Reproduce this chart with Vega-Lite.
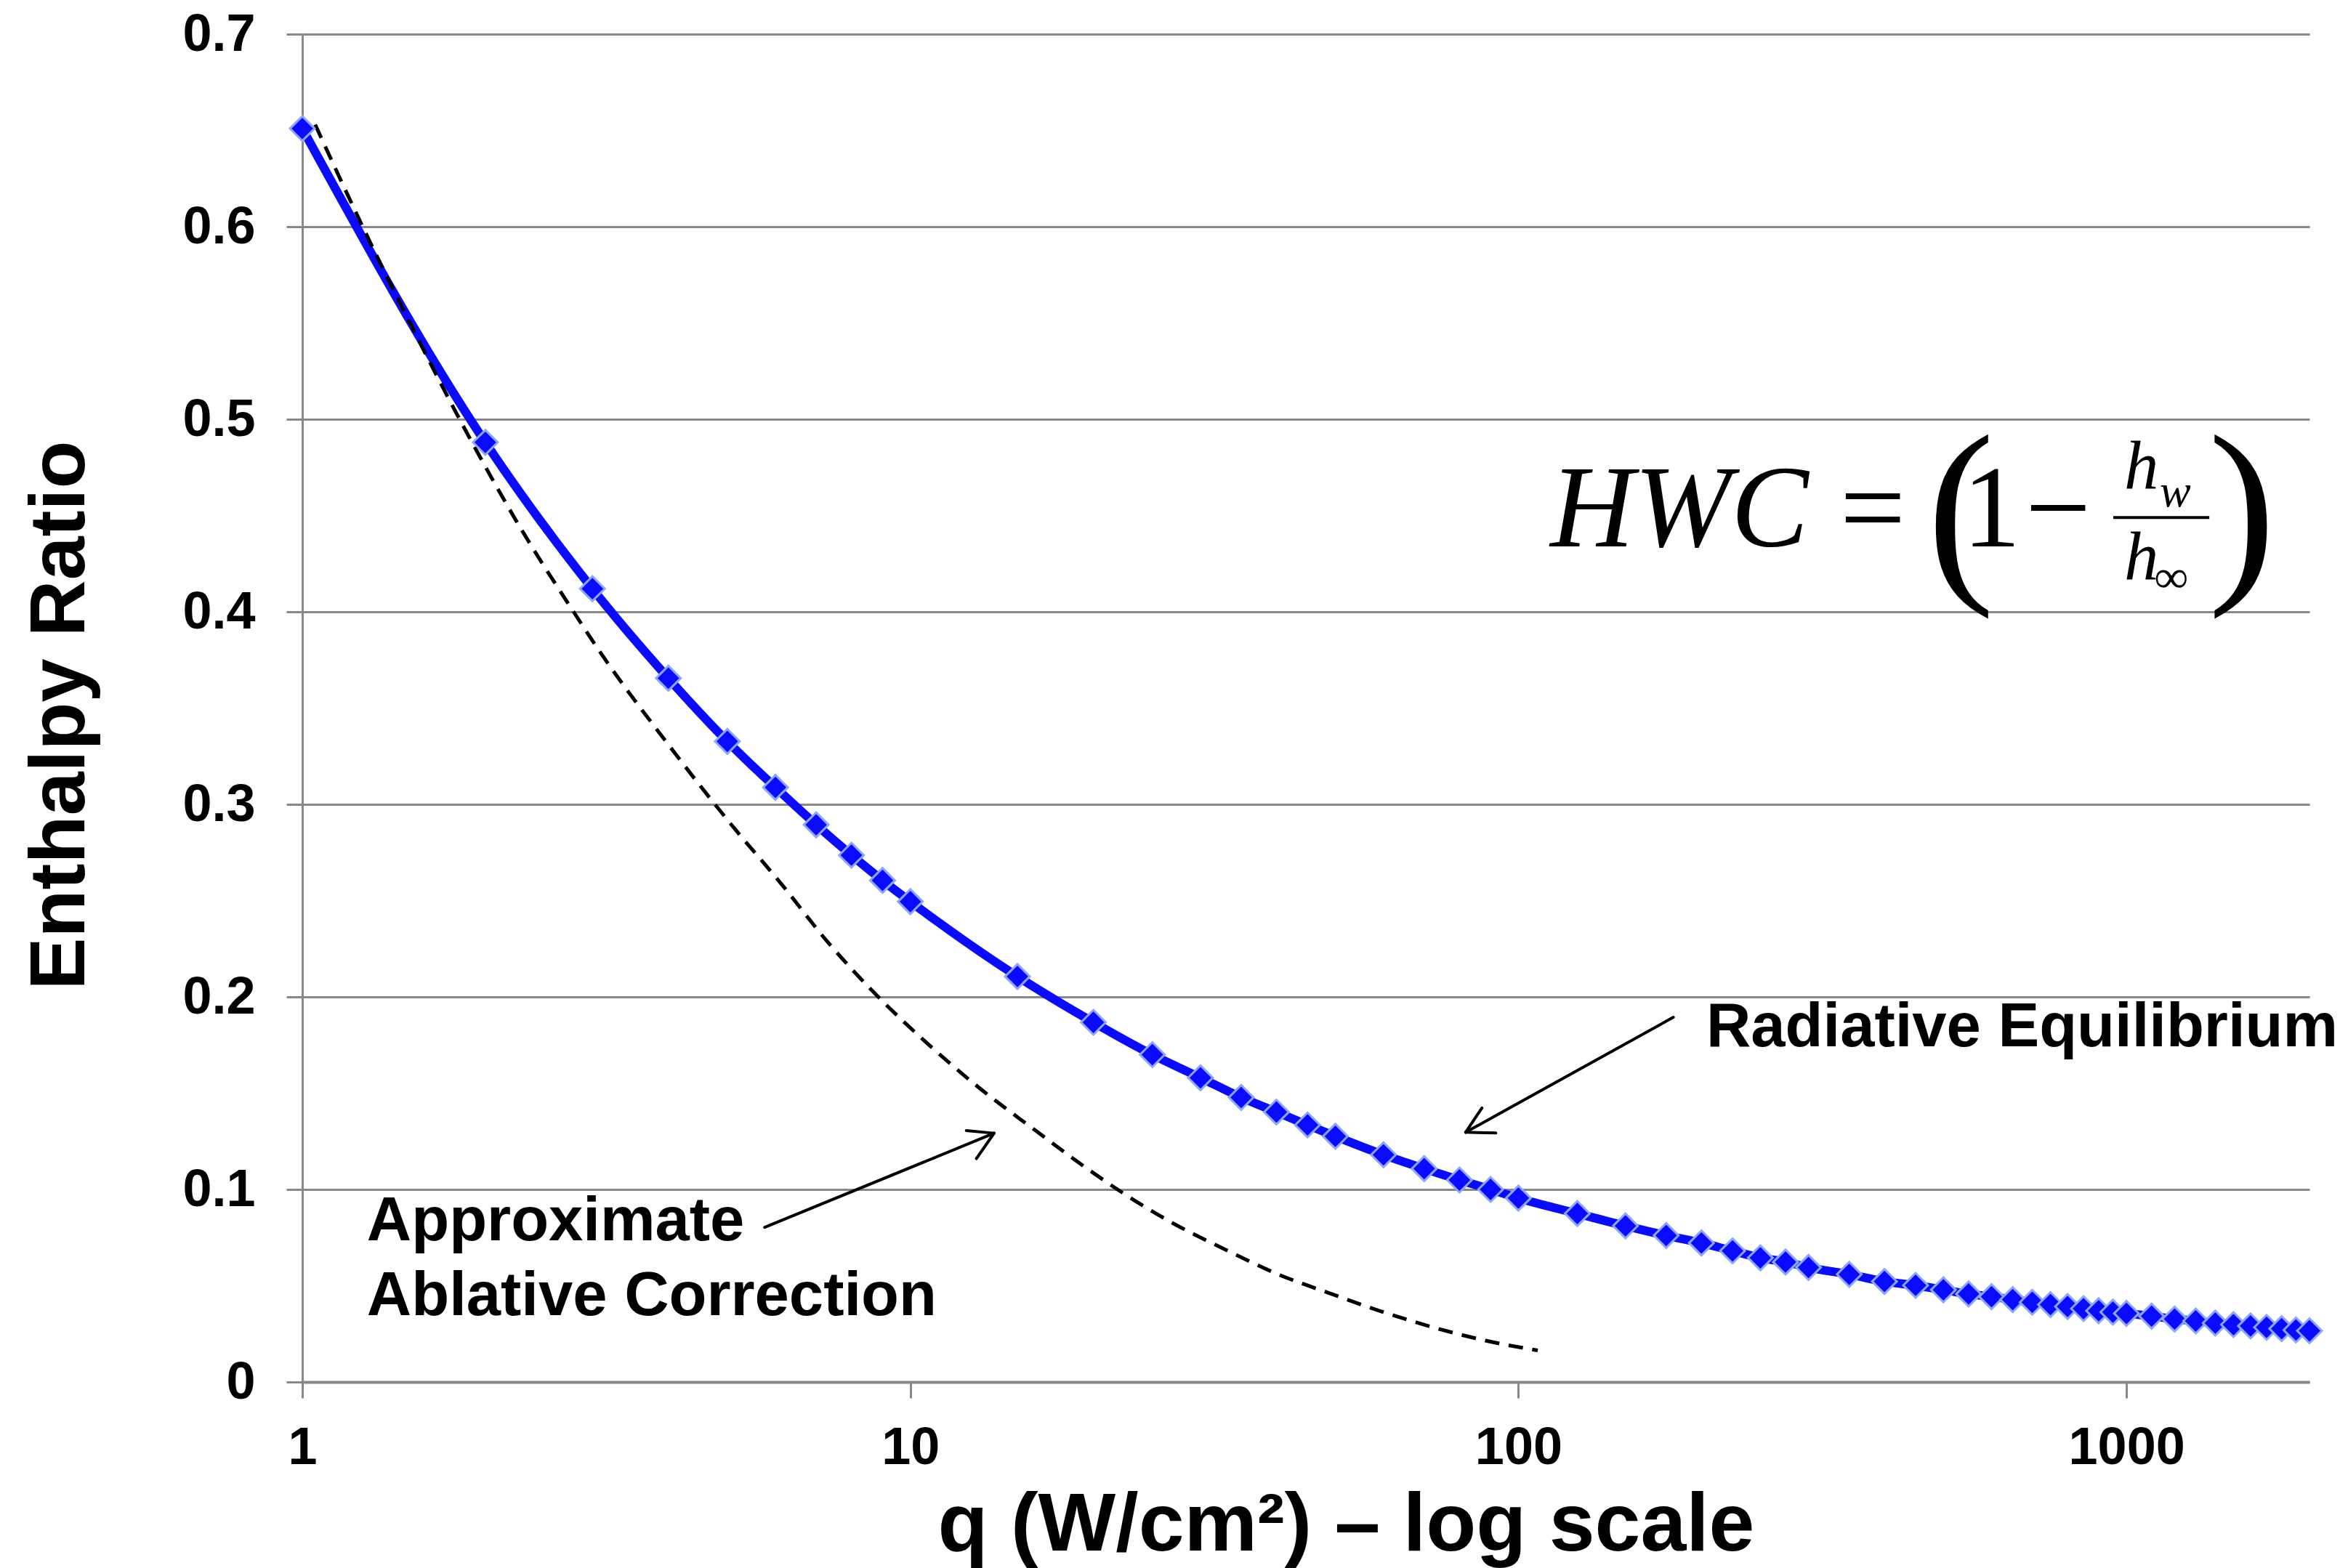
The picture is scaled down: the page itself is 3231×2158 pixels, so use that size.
{
  "$schema": "https://vega.github.io/schema/vega-lite/v6.json",
  "width": 2762,
  "height": 1855,
  "autosize": {"type": "none"},
  "padding": {"left": 416, "top": 47, "right": 53, "bottom": 256},
  "background": "white",
  "config": {
    "view": {"stroke": null},
    "font": "Liberation Sans"
  },
  "datasets": {
    "radiative": [
      {"q": 1, "r": 0.651}, {"q": 2, "r": 0.488}, {"q": 3, "r": 0.412}, {"q": 4, "r": 0.3655},
      {"q": 5, "r": 0.3327}, {"q": 6, "r": 0.3088}, {"q": 7, "r": 0.2894}, {"q": 8, "r": 0.2736},
      {"q": 9, "r": 0.2605}, {"q": 10, "r": 0.2495}, {"q": 15, "r": 0.2106}, {"q": 20, "r": 0.1868},
      {"q": 25, "r": 0.17}, {"q": 30, "r": 0.158}, {"q": 35, "r": 0.1478}, {"q": 40, "r": 0.1402},
      {"q": 45, "r": 0.1335}, {"q": 50, "r": 0.1276}, {"q": 60, "r": 0.118}, {"q": 70, "r": 0.1108},
      {"q": 80, "r": 0.1049}, {"q": 90, "r": 0.1}, {"q": 100, "r": 0.0955}, {"q": 125, "r": 0.0875},
      {"q": 150, "r": 0.0811}, {"q": 175, "r": 0.0761}, {"q": 200, "r": 0.0722}, {"q": 225, "r": 0.0681},
      {"q": 250, "r": 0.0645}, {"q": 275, "r": 0.0623}, {"q": 300, "r": 0.0595}, {"q": 350, "r": 0.0559},
      {"q": 400, "r": 0.0522}, {"q": 450, "r": 0.0502}, {"q": 500, "r": 0.0479}, {"q": 550, "r": 0.0457},
      {"q": 600, "r": 0.0443}, {"q": 650, "r": 0.0428}, {"q": 700, "r": 0.0414}, {"q": 750, "r": 0.0402},
      {"q": 800, "r": 0.0392}, {"q": 850, "r": 0.0381}, {"q": 900, "r": 0.037}, {"q": 950, "r": 0.0363},
      {"q": 1000, "r": 0.0356}, {"q": 1100, "r": 0.0342}, {"q": 1200, "r": 0.0327}, {"q": 1300, "r": 0.0317},
      {"q": 1400, "r": 0.0306}, {"q": 1500, "r": 0.0298}, {"q": 1600, "r": 0.0291}, {"q": 1700, "r": 0.0284},
      {"q": 1800, "r": 0.0277}, {"q": 1900, "r": 0.027}, {"q": 2000, "r": 0.0266}
    ],
    "ablative": [
      {"q": 1.05, "r": 0.653}, {"q": 1.27, "r": 0.597}, {"q": 1.52, "r": 0.547}, {"q": 1.85, "r": 0.495},
      {"q": 2.29, "r": 0.443}, {"q": 2.78, "r": 0.401}, {"q": 3.09, "r": 0.379}, {"q": 4.0, "r": 0.331},
      {"q": 5.06, "r": 0.29}, {"q": 6.16, "r": 0.258}, {"q": 7.29, "r": 0.229}, {"q": 8.76, "r": 0.2015},
      {"q": 10.65, "r": 0.176}, {"q": 12.95, "r": 0.153}, {"q": 16, "r": 0.131}, {"q": 19.7, "r": 0.11},
      {"q": 22.4, "r": 0.098}, {"q": 27.2, "r": 0.082}, {"q": 33, "r": 0.0687}, {"q": 40.2, "r": 0.056},
      {"q": 49, "r": 0.046}, {"q": 59.6, "r": 0.0366}, {"q": 72.6, "r": 0.0283}, {"q": 88.3, "r": 0.0215},
      {"q": 107.6, "r": 0.0164}
    ],
    "arrows": [
      {"q": 5.76, "r": 0.0803, "q2": 13.73, "r2": 0.1292},
      {"q": 13.73, "r": 0.1292, "q2": 12.36, "r2": 0.1306},
      {"q": 13.73, "r": 0.1292, "q2": 12.84, "r2": 0.116},
      {"q": 179.8, "r": 0.1894, "q2": 81.9, "r2": 0.1297},
      {"q": 81.9, "r": 0.1297, "q2": 87.1, "r2": 0.1423},
      {"q": 81.9, "r": 0.1297, "q2": 91.8, "r2": 0.1293}
    ],
    "fractionBar": [
      {"q": 951.5, "r": 0.449, "q2": 1368.5, "r2": 0.449}
    ],
    "labels": [
      {"q": 203.7, "r": 0.1743, "t": "Radiative Equilibrium"},
      {"q": 1.277, "r": 0.0736, "t": "Approximate"},
      {"q": 1.277, "r": 0.0347, "t": "Ablative Correction"}
    ],
    "formulaLead": [
      {"q": 112.8, "r": 0.434, "t": "HWC"}
    ],
    "formulaOps": [
      {"q": 382.6, "r": 0.434, "t": "="},
      {"q": 600, "r": 0.434, "t": "1"},
      {"q": 772, "r": 0.434, "t": "−"}
    ],
    "formulaParens": [
      {"q": 534, "r": 0.4189, "t": "("},
      {"q": 1548.5, "r": 0.4189, "t": ")"}
    ],
    "formulaH": [
      {"q": 991.5, "r": 0.4638, "t": "h"},
      {"q": 991.5, "r": 0.4166, "t": "h"}
    ],
    "formulaSubs": [
      {"q": 1134.5, "r": 0.4547, "t": "w"},
      {"q": 1113, "r": 0.4102, "t": "∞"}
    ]
  },
  "encoding": {
    "x": {
      "field": "q",
      "type": "quantitative",
      "scale": {"type": "log", "domain": [1, 2000], "nice": false},
      "axis": {
        "title": "q (W/cm²) – log scale",
        "values": [1, 10, 100, 1000],
        "format": "d",
        "grid": false,
        "labelFont": "Liberation Sans",
        "labelFontSize": 72,
        "labelFontWeight": "bold",
        "labelColor": "black",
        "labelPadding": 33,
        "labelFlush": false,
        "labelOverlap": false,
        "tickSize": 22,
        "tickColor": "#888888",
        "tickWidth": 3,
        "domainColor": "#888888",
        "domainWidth": 4,
        "titleFont": "Liberation Sans",
        "titleFontSize": 113,
        "titleFontWeight": "bold",
        "titleColor": "black",
        "titleX": 1436,
        "titleY": 231,
        "titleAlign": "center",
        "titleBaseline": "alphabetic"
      }
    },
    "y": {
      "field": "r",
      "type": "quantitative",
      "scale": {"domain": [0, 0.7], "nice": false},
      "axis": {
        "title": "Enthalpy Ratio",
        "values": [0, 0.1, 0.2, 0.3, 0.4, 0.5, 0.6, 0.7],
        "format": ".1~f",
        "grid": true,
        "gridColor": "#888888",
        "gridWidth": 3,
        "labelFont": "Liberation Sans",
        "labelFontSize": 72,
        "labelFontWeight": "bold",
        "labelColor": "black",
        "labelPadding": 43,
        "labelFlush": false,
        "labelOverlap": false,
        "tickSize": 22,
        "tickColor": "#888888",
        "tickWidth": 3,
        "domainColor": "#888888",
        "domainWidth": 3,
        "titleFont": "Liberation Sans",
        "titleFontSize": 108,
        "titleFontWeight": "bold",
        "titleColor": "black",
        "titleAngle": 270,
        "titleX": -301,
        "titleY": 937,
        "titleAlign": "center",
        "titleBaseline": "alphabetic"
      }
    }
  },
  "layer": [
    {
      "data": {"name": "radiative"},
      "mark": {"type": "line", "color": "#0a0aff", "strokeWidth": 12, "interpolate": "monotone"}
    },
    {
      "data": {"name": "ablative"},
      "mark": {"type": "line", "color": "black", "strokeWidth": 5, "strokeDash": [20, 13], "interpolate": "monotone"}
    },
    {
      "data": {"name": "radiative"},
      "mark": {"type": "point", "shape": "diamond", "filled": true, "size": 1150, "fill": "#0a0aff", "stroke": "#8aa6ff", "strokeWidth": 3, "opacity": 1}
    },
    {
      "data": {"name": "arrows"},
      "mark": {"type": "rule", "color": "black", "strokeWidth": 4, "strokeCap": "round"},
      "encoding": {"x2": {"field": "q2"}, "y2": {"field": "r2"}}
    },
    {
      "data": {"name": "fractionBar"},
      "mark": {"type": "rule", "color": "black", "strokeWidth": 4},
      "encoding": {"x2": {"field": "q2"}, "y2": {"field": "r2"}}
    },
    {
      "data": {"name": "labels"},
      "mark": {"type": "text", "font": "Liberation Sans", "fontWeight": "bold", "fontSize": 85, "align": "left", "baseline": "alphabetic", "color": "black"},
      "encoding": {"text": {"field": "t"}}
    },
    {
      "data": {"name": "formulaLead"},
      "mark": {"type": "text", "font": "Liberation Serif", "fontStyle": "italic", "fontSize": 160, "align": "left", "baseline": "alphabetic", "color": "black"},
      "encoding": {"text": {"field": "t"}}
    },
    {
      "data": {"name": "formulaOps"},
      "mark": {"type": "text", "font": "Liberation Serif", "fontSize": 160, "align": "center", "baseline": "alphabetic", "color": "black"},
      "encoding": {"text": {"field": "t"}}
    },
    {
      "data": {"name": "formulaParens"},
      "mark": {"type": "text", "font": "Liberation Serif", "fontSize": 280, "align": "center", "baseline": "alphabetic", "color": "black"},
      "encoding": {"text": {"field": "t"}}
    },
    {
      "data": {"name": "formulaH"},
      "mark": {"type": "text", "font": "Liberation Serif", "fontStyle": "italic", "fontSize": 95, "align": "left", "baseline": "alphabetic", "color": "black"},
      "encoding": {"text": {"field": "t"}}
    },
    {
      "data": {"name": "formulaSubs"},
      "mark": {"type": "text", "font": "Liberation Serif", "fontStyle": "italic", "fontSize": 64, "align": "left", "baseline": "alphabetic", "color": "black"},
      "encoding": {"text": {"field": "t"}}
    }
  ]
}
